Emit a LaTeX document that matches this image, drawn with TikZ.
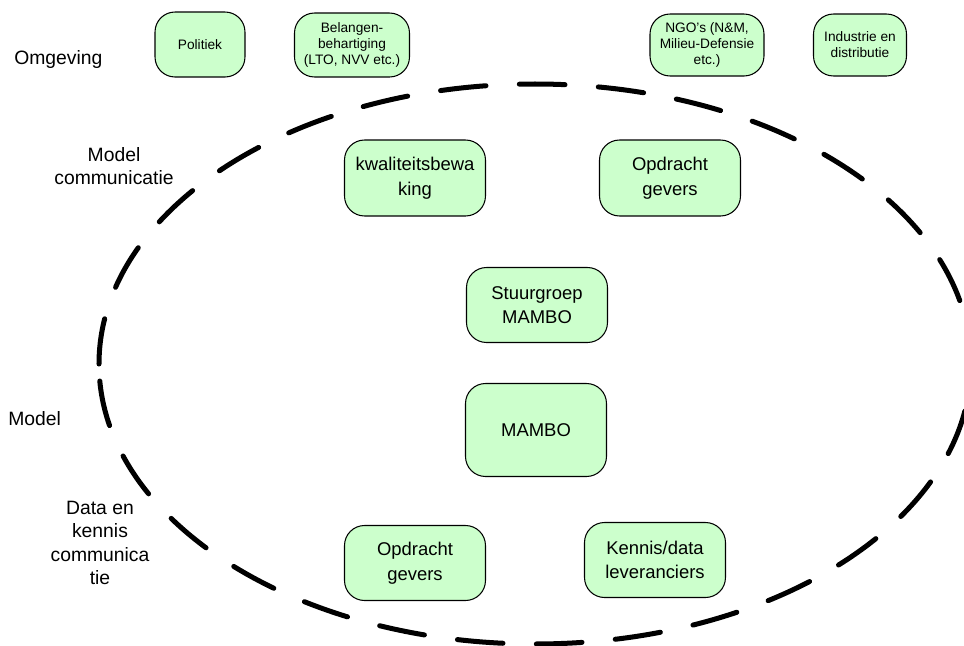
\documentclass[tikz,border=0pt]{standalone}
\usepackage{fontspec}
\setmainfont{Liberation Sans}
\usepackage{tikz}

\begin{document}
\begin{tikzpicture}[x=0.02cm,y=-0.02cm]
	\definecolor{boxgreen}{HTML}{CCFFCC}
	\tikzset{box/.style={draw=black,line width=0.6pt,fill=boxgreen,rounded corners=0.4cm,align=center,inner sep=0pt}}
	\tikzset{smallbox/.style={box,font=\fontsize{7.8}{9}\selectfont}}
	\tikzset{bigbox/.style={box,font=\fontsize{10.5}{14}\selectfont,minimum width=2.82cm,minimum height=1.5cm}}
	\tikzset{sidelabel/.style={align=center,inner sep=0pt,font=\fontsize{11}{13.4}\selectfont}}
	\tikzset{ringdash/.style={line width=2.85pt,line cap=round,dash pattern=on 26pt off 19pt}}
	\useasboundingbox (0,0) rectangle (964,646);
	% ring
	\draw[ringdash,rotate around={180:(535,364)}] (535,364) ellipse (436 and 280);
	% omgeving
	\node[smallbox,minimum width=1.8cm,minimum height=1.3cm] (politiek) at (200,44.5) {Politiek};
	\node[smallbox,minimum width=2.3cm,minimum height=1.28cm] (belangen) at (352,45) {Belangen-\\behartiging\\(LTO, NVV etc.)};
	\node[smallbox,minimum width=2.28cm,minimum height=1.24cm] (ngo) at (707,45) {NGO's (N\&M,\\Milieu-Defensie\\etc.)};
	\node[smallbox,minimum width=1.86cm,minimum height=1.24cm] (industrie) at (860,45) {Industrie en\\distributie};
	% binnen de ring
	\node[bigbox,minimum height=1.52cm] (kwaliteit) at (415,178) {kwaliteitsbewa\\king};
	\node[bigbox,minimum height=1.52cm] (opdrachtboven) at (670,178) {Opdracht\\gevers};
	\node[bigbox] (stuurgroep) at (537,305) {Stuurgroep\\MAMBO};
	\node[bigbox,minimum height=1.86cm] (mambo) at (536,430) {MAMBO};
	\node[bigbox] (opdrachtonder) at (415,563) {Opdracht\\gevers};
	\node[bigbox] (kennis) at (655,560) {Kennis/data\\leveranciers};
	% labels links
	\node[sidelabel,anchor=west] (omgeving) at (14,60) {Omgeving};
	\node[sidelabel] (modelcomm) at (114,166) {Model\\communicatie};
	\node[sidelabel,anchor=west] (model) at (8,419) {Model};
	\node[sidelabel] (datacomm) at (100,543) {Data en\\kennis\\communica\\tie};
\end{tikzpicture}
\end{document}
